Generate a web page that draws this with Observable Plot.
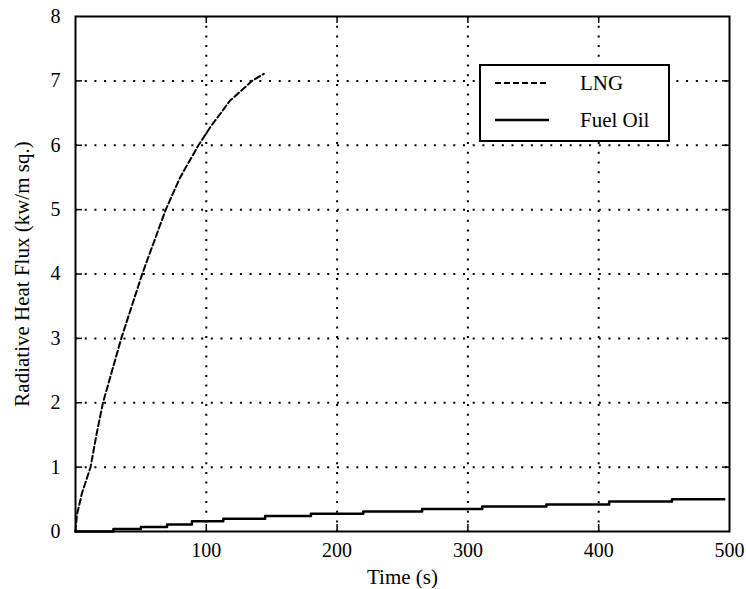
<!DOCTYPE html>
<html><head><meta charset="utf-8">
<script src="https://cdn.jsdelivr.net/npm/d3@7"></script>
<script src="https://cdn.jsdelivr.net/npm/@observablehq/plot@0.6"></script>
<style>
body{margin:0;background:#fff}
#wrap{position:relative;width:746px;height:589px;font-family:'Liberation Serif',serif}
#legend{position:absolute;left:479px;top:64px;width:187px;height:74px;border:2px solid #000;background:#fff;font-size:21px;color:#000}
.row{position:absolute;left:0;height:30px;width:187px}
.row svg{position:absolute;left:14px;top:0}
.row span{position:absolute;left:99px;top:2px;line-height:26px}
</style>
</head><body><div id="wrap"></div>
<script>
// LNG radiative heat flux (kW/m²) vs time (s)
const lngTime = [0, 1, 5, 11.5, 16, 21, 28, 35, 43, 51, 60, 69, 80, 94, 103, 118, 135, 144];
const lngFlux = [0, 0.25, 0.6, 1, 1.5, 2, 2.5, 3, 3.5, 4, 4.5, 5, 5.5, 6, 6.28, 6.69, 7.0, 7.11];
// Fuel oil (stepwise)
const oilTime = [0, 29, 50, 70, 89, 113, 145, 180, 220, 265, 311, 360, 408, 456, 496];
const oilFlux = [0, 0.04, 0.07, 0.11, 0.16, 0.20, 0.24, 0.275, 0.31, 0.35, 0.39, 0.42, 0.466, 0.50, 0.50];

const xTicks = [100, 200, 300, 400, 500];
const yTicks = [0, 1, 2, 3, 4, 5, 6, 7, 8];
const xGrid = [100, 200, 300, 400];
const yGrid = [1, 2, 3, 4, 5, 6, 7];
const seriesNames = ["LNG", "Fuel Oil"];
const seriesDash = ["6,3", null];
const xLabel = "Time (s)";
const yLabel = "Radiative Heat Flux (kw/m sq.)";

const W = 746, H = 589, mL = 75, mR = 17, mT = 16, mB = 58;
const xMax = 500, yMax = 8, tickPx = 7;
const tY = tickPx * yMax / (H - mT - mB);
const tX = tickPx * xMax / (W - mL - mR);

const lng = lngTime.map((t, i) => ({t, v: lngFlux[i]}));
const oil = oilTime.map((t, i) => ({t, v: oilFlux[i]}));

const dot = {stroke: "black", strokeOpacity: 1, strokeWidth: 2, strokeDasharray: "2,7.7"};
const tk = {stroke: "black", strokeWidth: 1.5};

const chart = Plot.plot({
  width: W, height: H,
  marginLeft: mL, marginRight: mR, marginTop: mT, marginBottom: mB,
  x: {domain: [0, xMax]},
  y: {domain: [0, yMax]},
  style: {fontFamily: "'Liberation Serif',serif", fontSize: "20px", color: "black", background: "white"},
  marks: [
    Plot.gridX(xGrid, dot),
    Plot.gridY(yGrid, dot),
    Plot.ruleX(xGrid, {y1: 0, y2: tY, ...tk}),
    Plot.ruleX(xGrid, {y1: yMax - tY, y2: yMax, ...tk}),
    Plot.ruleY(yGrid, {x1: 0, x2: tX, ...tk}),
    Plot.ruleY(yGrid, {x1: xMax - tX, x2: xMax, ...tk}),
    Plot.axisX(xTicks, {anchor: "bottom", tickSize: 0, tickPadding: 11, fontSize: 20, label: null, tickFormat: d => String(d)}),
    Plot.axisY(yTicks, {anchor: "left", tickSize: 0, tickPadding: 15, fontSize: 20, label: null, tickFormat: d => String(d)}),
    Plot.line(lng, {x: "t", y: "v", stroke: "black", strokeWidth: 2, strokeDasharray: seriesDash[0]}),
    Plot.line(oil, {x: "t", y: "v", stroke: "black", strokeWidth: 2.5, curve: "step-after"}),
    Plot.frame({stroke: "black", strokeWidth: 2}),
    Plot.text([xLabel], {frameAnchor: "bottom", dy: 52, fontSize: 21, fill: "black"}),
    Plot.text([yLabel], {frameAnchor: "left", dx: -53, rotate: -90, textAnchor: "middle", fontSize: 21, fill: "black"})
  ]
});
const wrap = document.getElementById("wrap");
wrap.appendChild(chart);

const legend = document.createElement("div");
legend.id = "legend";
seriesNames.forEach((name, i) => {
  const row = document.createElement("div");
  row.className = "row";
  row.style.top = (2 + i * 37) + "px";
  const dash = seriesDash[i] ? `stroke-dasharray="${seriesDash[i]}"` : "";
  row.innerHTML = `<svg width="56" height="30"><line x1="0" x2="54" y1="15" y2="15" stroke="black" stroke-width="${i ? 2.5 : 2}" ${dash}/></svg><span>${name}</span>`;
  legend.appendChild(row);
});
wrap.appendChild(legend);
</script>
</body></html>
